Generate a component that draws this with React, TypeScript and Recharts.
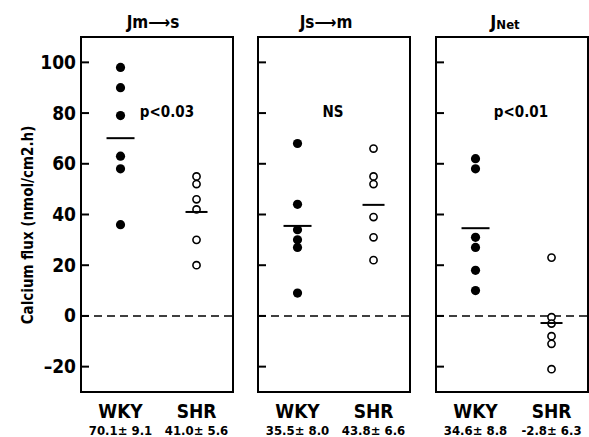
import { ReferenceArea, ReferenceLine, Scatter, ScatterChart, XAxis, YAxis } from 'recharts';

const groups = ['WKY', 'SHR'];
const groupX = [1, 3];
const titles = ['Jm⟶s', 'Js⟶m', 'J'];
const pLabels = ['p<0.03', 'NS', 'p<0.01'];
const yTicks = [-20, 0, 20, 40, 60, 80, 100];

// calcium flux, nmol/cm2.h
const wkyMs = [98, 90, 79, 63, 58, 36];
const shrMs = [55, 52, 46, 42, 30, 20];
const wkySm = [68, 44, 34, 30, 27, 9];
const shrSm = [66, 55, 52, 39, 31, 22];
const wkyNet = [62, 58, 31, 27, 18, 10];
const shrNet = [23, -0.5, -3, -8, -11, -21];

const groupMeans = [
    [70.1, 41.0],
    [35.5, 43.8],
    [34.6, -2.8],
];
const groupSems = [
    [9.1, 5.6],
    [8.0, 6.6],
    [8.8, 6.3],
];

const FONT = '"Liberation Sans Narrow", "DejaVu Sans Condensed", "Roboto", sans-serif';
const Y_DOMAIN: [number, number] = [-30, 110];
const X_DOMAIN: [number, number] = [-0.04, 3.96];

const panels = [
    { left: 0, width: 240, axisWidth: 81, wky: wkyMs, shr: shrMs },
    { left: 240, width: 180, axisWidth: 18, wky: wkySm, shr: shrSm },
    { left: 420, width: 169, axisWidth: 16, wky: wkyNet, shr: shrNet },
];

const filledDot = (p: any) => <circle cx={p.cx} cy={p.cy} r={4.6} fill="#000" />;
const openDot = (p: any) => <circle cx={p.cx} cy={p.cy} r={3.6} fill="#fff" stroke="#000" strokeWidth={1.6} />;
const meanBar = (half: number) => (p: any) => (
    <line x1={p.cx - half} x2={p.cx + half} y1={p.cy} y2={p.cy} stroke="#000" strokeWidth={2} />
);

function Panel({ idx }: { idx: number }) {
    const cfg = panels[idx];
    const showLabels = idx === 0;
    return (
        <div style={{ position: 'absolute', left: cfg.left, top: 0 }}>
            <ScatterChart width={cfg.width} height={437} margin={{ top: 37, right: cfg.width - cfg.axisWidth - 152, bottom: 0, left: 0 }}>
                <XAxis
                    type="number"
                    dataKey="x"
                    domain={X_DOMAIN}
                    ticks={groupX}
                    height={45}
                    axisLine={false}
                    tickLine={false}
                    tickSize={0}
                    tickMargin={0}
                    tick={(p: any) => {
                        const g = groupX.indexOf(p.payload.value);
                        return (
                            <g fontFamily={FONT} fontWeight="bold" fill="#000">
                                <text x={p.x} y={p.y + 26} textAnchor="middle" fontSize={19}>
                                    {groups[g]}
                                </text>
                                <text x={p.x} y={p.y + 43} textAnchor="middle" fontSize={13}>
                                    {`${groupMeans[idx][g].toFixed(1)}± ${groupSems[idx][g].toFixed(1)}`}
                                </text>
                            </g>
                        );
                    }}
                />
                <YAxis
                    type="number"
                    dataKey="y"
                    domain={Y_DOMAIN}
                    ticks={yTicks}
                    width={cfg.axisWidth}
                    axisLine={false}
                    tickLine={false}
                    tickSize={0}
                    tickMargin={0}
                    tick={(p: any) => (
                        <g>
                            <line x1={p.x} x2={p.x + 8} y1={p.y} y2={p.y} stroke="#000" strokeWidth={2} />
                            {showLabels && (
                                <text x={p.x - 5} y={p.y + 6.5} textAnchor="end" fontSize={19} fontWeight="bold" fontFamily={FONT} fill="#000">
                                    {p.payload.value < 0 ? `–${-p.payload.value}` : p.payload.value}
                                </text>
                            )}
                        </g>
                    )}
                />
                <ReferenceArea x1={X_DOMAIN[0]} x2={X_DOMAIN[1]} y1={Y_DOMAIN[0]} y2={Y_DOMAIN[1]} fill="none" stroke="#000" strokeWidth={2} ifOverflow="visible" />
                <ReferenceLine y={0} stroke="#000" strokeWidth={1.6} strokeDasharray="8 5" />
                <Scatter data={cfg.wky.map((v) => ({ x: groupX[0], y: v }))} shape={filledDot} isAnimationActive={false} />
                <Scatter data={cfg.shr.map((v) => ({ x: groupX[1], y: v }))} shape={openDot} isAnimationActive={false} />
                <Scatter data={[{ x: groupX[0], y: groupMeans[idx][0] }]} shape={meanBar(14)} isAnimationActive={false} />
                <Scatter data={[{ x: groupX[1], y: groupMeans[idx][1] }]} shape={meanBar(11)} isAnimationActive={false} />
            </ScatterChart>
        </div>
    );
}

export default function App() {
    return (
        <div style={{ position: 'absolute', left: 0, top: 0, width: 589, height: 437, background: '#fff' }}>
            <Panel idx={0} />
            <Panel idx={1} />
            <Panel idx={2} />
            <svg width={589} height={437} style={{ position: 'absolute', left: 0, top: 0, pointerEvents: 'none' }} fontFamily={FONT} fontWeight="bold" fill="#000">
                <text x={153} y={28} textAnchor="middle" fontSize={17}>{titles[0]}</text>
                <text x={326} y={28} textAnchor="middle" fontSize={17}>{titles[1]}</text>
                <text x={505} y={28} textAnchor="middle" fontSize={18}>
                    {titles[2]}
                    <tspan fontSize={13} dy={1}>Net</tspan>
                </text>
                <text x={167} y={117} textAnchor="middle" fontSize={15}>{pLabels[0]}</text>
                <text x={333} y={117} textAnchor="middle" fontSize={15}>{pLabels[1]}</text>
                <text x={521} y={117} textAnchor="middle" fontSize={15}>{pLabels[2]}</text>
                <text x={33} y={225} transform="rotate(-90 33 225)" textAnchor="middle" fontSize={15}>
                    Calcium flux (nmol/cm2.h)
                </text>
            </svg>
        </div>
    );
}
